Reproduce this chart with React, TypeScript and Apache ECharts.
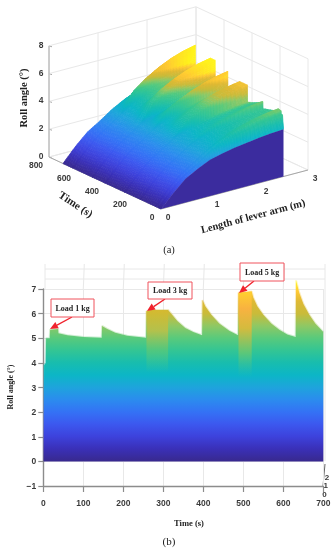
import React, { useEffect, useRef } from "react";
import * as echarts from "echarts";

// ---- shared colour ramp: roll angle -> colour
const rampAngles = [0, 0.5, 1, 1.5, 2, 2.5, 3, 3.5, 4, 4.5, 5, 5.5, 6, 6.5, 6.9, 7.3];
const rampColors = ["#38298f", "#3a30b8", "#3d42dc", "#3c58ef", "#3472f5", "#2b8cee", "#1ea4dc", "#0cb6c6", "#18bdae", "#33c594", "#58ca7c", "#8fc864", "#c9bb3a", "#dfb934", "#ffc934", "#fff21c"];

// ---- panel (a)
const leverArm = [0, 0.25, 0.5, 0.75, 1, 1.25, 1.5, 1.75, 2, 2.25, 2.5];
const frontAngles = [0, 0.9, 1.7, 2.2, 2.6, 2.82, 3.0, 3.13, 3.25, 3.35, 3.4];
const surfaceTimes = [7, 16, 17, 37, 39, 70, 110, 146, 147, 175, 215, 257, 258, 312, 325, 360, 397, 398, 420, 455, 487, 488, 521, 530, 565, 600, 629, 630, 655, 680, 700];
const surfaceAngles = [
  [0, 0.97, 1.8, 2.35, 2.95, 3.35, 3.7, 3.95, 4.15, 4.3, 4.4],
  [0, 0.97, 1.8, 2.35, 2.95, 3.35, 3.7, 3.95, 4.15, 4.3, 4.4],
  [0, 0.97, 1.8, 2.35, 2.96, 3.48, 3.86, 4.15, 4.37, 4.54, 4.65],
  [0, 0.97, 1.8, 2.35, 2.97, 3.5, 3.9, 4.18, 4.41, 4.59, 4.7],
  [0, 0.97, 1.8, 2.35, 2.96, 3.43, 3.8, 4.07, 4.28, 4.44, 4.55],
  [0, 0.97, 1.8, 2.35, 2.95, 3.36, 3.71, 3.97, 4.17, 4.32, 4.42],
  [0, 0.97, 1.8, 2.35, 2.95, 3.3, 3.64, 3.87, 4.06, 4.21, 4.3],
  [0, 0.97, 1.8, 2.35, 2.94, 3.25, 3.57, 3.79, 3.97, 4.11, 4.2],
  [0, 0.97, 1.8, 2.35, 2.97, 3.5, 3.9, 4.18, 4.41, 4.59, 4.7],
  [0, 0.97, 1.8, 2.35, 2.96, 3.4, 3.77, 4.03, 4.24, 4.4, 4.5],
  [0, 0.97, 1.8, 2.35, 2.95, 3.3, 3.64, 3.87, 4.06, 4.21, 4.3],
  [0, 0.97, 1.8, 2.35, 2.94, 3.23, 3.54, 3.76, 3.93, 4.06, 4.15],
  [0, 0.97, 1.8, 2.35, 3.0, 3.84, 4.33, 4.71, 5.0, 5.22, 5.37],
  [0, 0.97, 1.8, 2.35, 3.0, 3.84, 4.33, 4.71, 5.0, 5.22, 5.37],
  [0, 0.97, 1.8, 2.35, 2.99, 3.73, 4.19, 4.54, 4.81, 5.01, 5.15],
  [0, 0.97, 1.8, 2.35, 2.97, 3.5, 3.9, 4.18, 4.41, 4.59, 4.7],
  [0, 0.97, 1.8, 2.35, 2.95, 3.35, 3.7, 3.95, 4.15, 4.3, 4.4],
  [0, 0.97, 1.8, 2.35, 3.02, 4.0, 4.55, 4.96, 5.29, 5.54, 5.7],
  [0, 0.97, 1.8, 2.35, 3.0, 3.8, 4.29, 4.65, 4.94, 5.16, 5.3],
  [0, 0.97, 1.8, 2.35, 2.96, 3.45, 3.83, 4.11, 4.33, 4.49, 4.6],
  [0, 0.97, 1.8, 2.35, 2.93, 3.18, 3.47, 3.68, 3.84, 3.97, 4.05],
  [0, 0.97, 1.8, 2.35, 3.03, 4.19, 4.79, 5.26, 5.63, 5.9, 6.08],
  [0, 0.97, 1.8, 2.35, 3.03, 4.19, 4.79, 5.26, 5.63, 5.9, 6.08],
  [0, 0.97, 1.8, 2.35, 3.02, 4.03, 4.58, 5.0, 5.34, 5.58, 5.75],
  [0, 0.97, 1.8, 2.35, 2.99, 3.7, 4.16, 4.5, 4.77, 4.97, 5.1],
  [0, 0.97, 1.8, 2.35, 2.98, 3.6, 4.03, 4.34, 4.59, 4.78, 4.9],
  [0, 0.97, 1.8, 2.35, 2.97, 3.5, 3.9, 4.18, 4.41, 4.59, 4.7],
  [0, 0.97, 1.8, 2.35, 3.06, 4.4, 5.07, 5.59, 6.0, 6.3, 6.5],
  [0, 0.97, 1.8, 2.35, 3.01, 3.9, 4.42, 4.81, 5.12, 5.35, 5.5],
  [0, 0.97, 1.8, 2.35, 2.98, 3.6, 4.03, 4.34, 4.59, 4.78, 4.9],
  [0, 0.97, 1.8, 2.35, 2.96, 3.43, 3.8, 4.07, 4.28, 4.44, 4.55],
];
// colour of the surface: a tone read per time row, stronger towards the long end of the arm
const frontTone = 0;
const surfaceTones = [0, 0, 0.1, 0.1, 0.05, 0, 0, 0.2, 0.1, 0, 0.2, 1.2, 0.1, 0.1, 0.5, 0.8, 1.4, 0.1, 0.6, 1.0, 1.3, 0.3, 0.3, 0.7, 1.0, 1.1, 1.2, 0, 0.8, 1.0, 1.0];
const toneWeights = [0, 0, 0, 0, 0, 0, 0.2, 0.45, 0.7, 0.9, 1];
const surfaceColourIn = [0, 4.4, 5.3, 6.5];
const surfaceColourOut = [0, 4.6, 6.6, 7.3];
const leverTicks = [0, 1, 2, 3];
const timeTicks3d = [0, 200, 400, 600, 800];
const angleTicks3d = [0, 2, 4, 6, 8];

// ---- panel (b)
const envelopeTimes = [1, 2, 6, 7, 16, 17, 37, 38, 60, 100, 146, 147, 160, 180, 210, 257, 258, 270, 312, 320, 335, 355, 375, 397, 398, 405, 420, 440, 465, 487, 488, 521, 525, 535, 550, 570, 590, 610, 631, 632, 640, 650, 665, 680, 700];
const envelopeAngles = [0, 3.9, 4.0, 5.0, 5.0, 5.35, 5.38, 5.2, 5.12, 5.05, 5.02, 5.5, 5.38, 5.22, 5.1, 5.02, 6.1, 6.15, 6.15, 6.0, 5.7, 5.42, 5.25, 5.12, 6.55, 6.3, 5.95, 5.6, 5.3, 5.12, 6.85, 6.9, 6.65, 6.3, 5.95, 5.6, 5.35, 5.15, 5.05, 7.35, 6.85, 6.4, 5.95, 5.6, 5.25];
const load3Times = [258, 270, 312];
const load3Angles = [6.1, 6.15, 6.15];
const load5Times = [488, 521];
const load5Angles = [6.85, 6.9];
const calloutLabels = ["Load 1 kg", "Load 3 kg", "Load 5 kg"];
const depthTicks = ["2", "1", "0"];

const AXIS = "#8c8c8c";
const AXIS3D = "#a6a6a6";
const GRID = "#e8e8e8";
const INK = "#3a3a3a";
const SERIF = "'Liberation Serif', serif";
const SANS = "'Liberation Sans', sans-serif";

function hex(c: string) {
  return [1, 3, 5].map((i) => parseInt(c.slice(i, i + 2), 16));
}
function rampColor(a: number) {
  const v = Math.max(rampAngles[0], Math.min(rampAngles[rampAngles.length - 1], a));
  let i = 0;
  while (i < rampAngles.length - 2 && v > rampAngles[i + 1]) i++;
  const f = (v - rampAngles[i]) / (rampAngles[i + 1] - rampAngles[i]);
  const p = hex(rampColors[i]);
  const q = hex(rampColors[i + 1]);
  return `rgb(${p.map((x, k) => Math.round(x + (q[k] - x) * f)).join(",")})`;
}
function colour3d(z: number, tone: number) {
  let i = 0;
  while (i < surfaceColourIn.length - 2 && z > surfaceColourIn[i + 1]) i++;
  const f = (z - surfaceColourIn[i]) / (surfaceColourIn[i + 1] - surfaceColourIn[i]);
  return rampColor(surfaceColourOut[i] + (surfaceColourOut[i + 1] - surfaceColourOut[i]) * f + tone);
}

// oblique view of panel (a)
const project = (L: number, t: number, z: number): [number, number] => [161 + 49 * L - 0.14 * t, 209 - 13 * L - 0.065 * t - 13.9 * z];

const pixelOfB = (z: number) => 461 - 24.57 * z;

function buildCells() {
  const allTimes = [0, ...surfaceTimes];
  const rows = [frontAngles, ...surfaceAngles];
  const tones = [frontTone, ...surfaceTones];
  const cells: number[][] = [];
  for (let r = rows.length - 2; r >= 0; r--) {
    for (let c = leverArm.length - 2; c >= 0; c--) {
      cells.push([leverArm[c], leverArm[c + 1], allTimes[r], allTimes[r + 1], rows[r][c], rows[r][c + 1], rows[r + 1][c], rows[r + 1][c + 1], tones[r], tones[r + 1], toneWeights[c], toneWeights[c + 1]]);
    }
  }
  return cells;
}

function gridLines3d() {
  const s: number[][] = [];
  const add = (a: [number, number], b: [number, number]) => s.push([a[0], a[1], b[0], b[1]]);
  angleTicks3d.forEach((z) => {
    add(project(0, 800, z), project(3, 800, z));
    add(project(3, 800, z), project(3, 0, z));
  });
  leverTicks.forEach((L) => {
    add(project(L, 800, 0), project(L, 800, 8));
    add(project(L, 0, 0), project(L, 800, 0));
  });
  timeTicks3d.forEach((t) => {
    add(project(3, t, 0), project(3, t, 8));
    add(project(0, t, 0), project(3, t, 0));
  });
  return s;
}

function text(str: string, x: number, y: number, size: number, o: any = {}) {
  return {
    type: "text",
    x,
    y,
    z: 100,
    rotation: o.rotation || 0,
    silent: true,
    style: {
      text: str,
      fontSize: size,
      fontFamily: o.family || SANS,
      fontWeight: o.weight || "bold",
      fill: o.fill || INK,
      align: o.align || "center",
      verticalAlign: "middle",
    },
  };
}

function callout(label: string, box: number[], from: number[], tip: number[]) {
  const ang = Math.atan2(tip[1] - from[1], tip[0] - from[0]);
  const back = 8;
  const wing = 3.6;
  const bx = tip[0] - back * Math.cos(ang);
  const by = tip[1] - back * Math.sin(ang);
  const nx = -Math.sin(ang) * wing;
  const ny = Math.cos(ang) * wing;
  return [
    { type: "line", z: 98, silent: true, shape: { x1: from[0], y1: from[1], x2: bx, y2: by }, style: { stroke: "#f0232d", lineWidth: 1.4 } },
    { type: "polygon", z: 98, silent: true, shape: { points: [tip, [bx + nx, by + ny], [bx - nx, by - ny]] }, style: { fill: "#f0232d" } },
    { type: "rect", z: 99, silent: true, shape: { x: box[0], y: box[1], width: box[2], height: box[3] }, style: { fill: "#fff", stroke: "#f0525c", lineWidth: 1 } },
    text(label, box[0] + box[2] / 2, box[1] + box[3] / 2, 8, { family: SERIF, fill: "#222" }),
  ];
}

function buildOption() {
  const graphics: any[] = [];
  angleTicks3d.forEach((z) => {
    const [x, y] = project(0, 800, z);
    graphics.push(text(String(z), x - 8, y - 1, 8.5));
    graphics.push({ type: "line", silent: true, shape: { x1: x, y1: y, x2: x + 3, y2: y + 1 }, style: { stroke: AXIS3D, lineWidth: 1 } });
  });
  timeTicks3d.forEach((t) => {
    const [x, y] = project(0, t, 0);
    graphics.push(text(String(t), x - (t === 0 ? 9 : 13), y + 8, 8.5));
  });
  leverTicks.forEach((L) => {
    const [x, y] = project(L, 0, 0);
    graphics.push(text(String(L), x + 7, y + 8, 8.5));
  });
  graphics.push(text("Roll angle (°)", 23, 98, 10.5, { family: SERIF, rotation: Math.PI / 2, fill: "#222" }));
  graphics.push(text("Time (s)", 76, 204, 11, { family: SERIF, rotation: -0.58, fill: "#222" }));
  graphics.push(text("Length of lever arm (m)", 253, 216, 10.5, { family: SERIF, rotation: 0.26, fill: "#222" }));
  graphics.push(text("(a)", 169, 249, 10.5, { family: SERIF, weight: "normal", fill: "#222" }));
  graphics.push(text("(b)", 169, 541, 11, { family: SERIF, weight: "normal", fill: "#222" }));

  [100, 200, 300, 400, 500, 600].forEach((t) => {
    const x = 43.3 + t * 0.4;
    graphics.push({ type: "line", silent: true, shape: { x1: x, y1: 289, x2: x + 1, y2: 264 }, style: { stroke: GRID, lineWidth: 1 } });
  });
  [[45, 269, 325, 269], [45, 279, 325, 279], [45, 264, 45, 289], [325, 264, 325, 461]].forEach((l) => {
    graphics.push({ type: "line", silent: true, shape: { x1: l[0], y1: l[1], x2: l[2], y2: l[3] }, style: { stroke: GRID, lineWidth: 1 } });
  });
  graphics.push({ type: "line", silent: true, shape: { x1: 323, y1: 486, x2: 325, y2: 464 }, style: { stroke: "#666", lineWidth: 1 } });
  depthTicks.forEach((d, i) => graphics.push(text(d, 327 - i * 1.3, 477 + i * 8.5, 8)));

  graphics.push(text("Roll angle (°)", 10, 387, 8, { family: SERIF, rotation: Math.PI / 2, fill: "#222" }));
  graphics.push(text("Time (s)", 189, 523, 8.5, { family: SERIF, fill: "#222" }));

  graphics.push(...callout(calloutLabels[0], [51, 299, 43, 18], [72, 317], [50, 329]));
  graphics.push(...callout(calloutLabels[1], [148, 282, 44, 17], [165, 299], [147, 311]));
  graphics.push(...callout(calloutLabels[2], [240, 263, 44, 18], [254, 281], [239, 293]));

  const stops = rampAngles.map((a, i) => ({ offset: a / 7.3, color: rampColors[i] }));
  const fade = (low: number, top: number, marks: [number, string][]) => ({
    type: "linear", x: 0, y: pixelOfB(low), x2: 0, y2: pixelOfB(top), global: true,
    colorStops: marks.map(([z, c]) => ({ offset: (z - low) / (top - low), color: c })),
  });
  const load3Fill = fade(3.6, 6.2, [[3.6, "rgba(60,198,150,0)"], [4.5, "rgba(90,200,120,0.75)"], [5.3, "#b3c14c"], [6.2, "#d8b92c"]]);
  const load5Fill = fade(3.4, 6.9, [[3.4, "rgba(40,190,170,0)"], [4.4, "rgba(100,200,115,0.85)"], [5.4, "#d4bb3e"], [6.2, "#f8b240"], [6.9, "#ffd02e"]]);
  const overlay = (name: string, ts: number[], zs: number[], fill: any) => ({
    type: "line", name, xAxisIndex: 1, yAxisIndex: 1, clip: false, symbol: "none", silent: true,
    lineStyle: { width: 0 },
    areaStyle: { origin: 0, opacity: 1, color: fill },
    data: ts.map((t, i) => [t, zs[i]]),
  });
  const mainFill = { type: "linear", x: 0, y: pixelOfB(0), x2: 0, y2: pixelOfB(7.3), global: true, colorStops: stops };

  return {
    animation: false,
    backgroundColor: "#fff",
    grid: [
      { left: 0, top: 0, width: 335, height: 270, show: false },
      { left: 43.3, top: 289, width: 280, height: 197, show: false },
    ],
    xAxis: [
      { type: "value", gridIndex: 0, min: 0, max: 335, show: false },
      {
        type: "value", gridIndex: 1, min: 0, max: 700, interval: 100,
        axisLine: { onZero: false, lineStyle: { color: AXIS, width: 1.4 } },
        axisTick: { length: 6, lineStyle: { color: AXIS, width: 1.2 } },
        axisLabel: { color: INK, fontFamily: SANS, fontWeight: "bold", fontSize: 8.5, margin: 12, showMaxLabel: true },
        splitLine: { show: true, lineStyle: { color: GRID, width: 1 } },
      },
    ],
    yAxis: [
      { type: "value", gridIndex: 0, min: 0, max: 270, inverse: true, show: false },
      {
        type: "value", gridIndex: 1, min: -1, max: 7, interval: 1,
        axisLine: { show: true, onZero: false, lineStyle: { color: AXIS, width: 1.4 } },
        axisTick: { show: true, length: 5, lineStyle: { color: AXIS, width: 1.2 } },
        axisLabel: { color: INK, fontFamily: SANS, fontWeight: "bold", fontSize: 8.5, margin: 7, formatter: (v: number) => (v < 0 ? "−1" : String(v)) },
        splitLine: { show: true, lineStyle: { color: GRID, width: 1 } },
      },
    ],
    graphic: { elements: graphics },
    series: [
      {
        type: "custom", name: "box", xAxisIndex: 0, yAxisIndex: 0, silent: true,
        data: gridLines3d(),
        renderItem: (_p: any, api: any) => {
          const a = api.coord([api.value(0), api.value(1)]);
          const b = api.coord([api.value(2), api.value(3)]);
          return { type: "line", shape: { x1: a[0], y1: a[1], x2: b[0], y2: b[1] }, style: { stroke: GRID, lineWidth: 1 } };
        },
      },
      {
        type: "custom", name: "axes3d", xAxisIndex: 0, yAxisIndex: 0, silent: true,
        data: [
          [...project(0, 800, 0), ...project(0, 0, 0)],
          [...project(0, 0, 0), ...project(3, 0, 0)],
          [...project(0, 800, 0), ...project(0, 800, 8)],
        ],
        renderItem: (_p: any, api: any) => {
          const a = api.coord([api.value(0), api.value(1)]);
          const b = api.coord([api.value(2), api.value(3)]);
          return { type: "line", shape: { x1: a[0], y1: a[1], x2: b[0], y2: b[1] }, style: { stroke: AXIS3D, lineWidth: 1 } };
        },
      },
      {
        type: "custom", name: "surface", xAxisIndex: 0, yAxisIndex: 0, silent: true,
        data: buildCells(),
        renderItem: (_p: any, api: any) => {
          const [L0, L1, t0, t1, z00, z01, z10, z11, tone0, tone1, w0, w1] = [0, 1, 2, 3, 4, 5, 6, 7, 8, 9, 10, 11].map((i) => api.value(i));
          const nL = Math.min(10, Math.max(2, Math.ceil(Math.max(Math.abs(z01 - z00), Math.abs(z11 - z10)) / 0.08)));
          const nT = Math.min(14, Math.max(2, Math.ceil(Math.max(Math.abs(z10 - z00), Math.abs(z11 - z01)) / 0.08)));
          const Z = (u: number, v: number) => (1 - v) * ((1 - u) * z00 + u * z01) + v * ((1 - u) * z10 + u * z11);
          const Tone = (u: number, v: number) => (tone0 + (tone1 - tone0) * v) * (w0 + (w1 - w0) * u);
          const pt = (u: number, v: number) => {
            const p = project(L0 + (L1 - L0) * u, t0 + (t1 - t0) * v, Z(u, v));
            return api.coord(p);
          };
          const children: any[] = [];
          for (let j = nT - 1; j >= 0; j--) {
            for (let i = nL - 1; i >= 0; i--) {
              const u0 = i / nL, u1 = (i + 1) / nL, v0 = j / nT, v1 = (j + 1) / nT;
              const um = (u0 + u1) / 2, vm = (v0 + v1) / 2;
              const col = colour3d(Z(um, vm), Tone(um, vm));
              children.push({
                type: "polygon", silent: true,
                shape: { points: [pt(u0, v0), pt(u1, v0), pt(u1, v1), pt(u0, v1)] },
                style: { fill: col, stroke: col, lineWidth: 0.7 },
              });
            }
          }
          return { type: "group", children };
        },
      },
      {
        type: "custom", name: "front wall", xAxisIndex: 0, yAxisIndex: 0, silent: true,
        data: [frontAngles],
        renderItem: (_p: any, api: any) => {
          const pts = leverArm.map((L, i) => api.coord(project(L, 0, api.value(i))));
          pts.push(api.coord(project(leverArm[leverArm.length - 1], 0, 0)));
          pts.push(api.coord(project(0, 0, 0)));
          return { type: "polygon", shape: { points: pts }, style: { fill: "#3b2c9e" } };
        },
      },
      {
        type: "line", name: "Roll angle", xAxisIndex: 1, yAxisIndex: 1, clip: false, symbol: "none", silent: true,
        lineStyle: { width: 2, opacity: 0.3, color: mainFill },
        areaStyle: { origin: 0, opacity: 1, color: mainFill },
        data: envelopeTimes.map((t, i) => [t, envelopeAngles[i]]),
      },
      overlay("Load 3 kg", load3Times, load3Angles, load3Fill),
      overlay("Load 5 kg", load5Times, load5Angles, load5Fill),
    ],
  };
}

export default function App() {
  const ref = useRef<HTMLDivElement>(null);
  useEffect(() => {
    document.body.style.margin = "0";
    const chart = echarts.init(ref.current!, undefined, { renderer: "svg" });
    chart.setOption(buildOption() as any);
    return () => chart.dispose();
  }, []);
  return <div ref={ref} style={{ width: 335, height: 550, filter: "blur(0.35px)" }} />;
}
